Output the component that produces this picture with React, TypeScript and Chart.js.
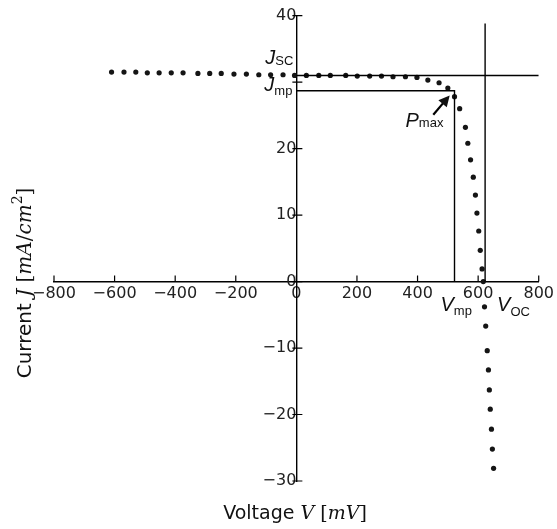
import { useEffect, useRef } from 'react';
import { Chart, registerables } from 'chart.js';

Chart.register(...registerables);

// ---- data ----
const voltage = [
  -610, -569, -530, -492, -453, -413, -374, -325, -286, -248, -206, -165, -124, -85, -44, -6,
  33, 74, 112, 163, 201, 242, 281, 319, 360, 398, 434, 471, 500, 522, 539,
  558, 566, 575, 584, 591, 596, 602, 607, 613, 617, 621, 625, 630, 634, 637, 640, 644, 647, 651,
];
const current = [
  31.5, 31.5, 31.5, 31.4, 31.4, 31.4, 31.4, 31.3, 31.3, 31.3, 31.2, 31.2, 31.1, 31.1, 31.1, 31.0,
  31.0, 31.0, 31.0, 31.0, 30.9, 30.9, 30.9, 30.8, 30.8, 30.7, 30.3, 29.9, 29.1, 27.8, 26.0,
  23.2, 20.8, 18.3, 15.7, 13.0, 10.3, 7.6, 4.7, 1.9, 0.0, -3.8, -6.7, -10.4, -13.3, -16.3, -19.2, -22.2, -25.2, -28.1,
];

const jsc = 31.0;
const voc = 623;
const vocTop = 38.8;
const vmp = 522;
const jmp = 28.7;
const arrowFrom = [452, 25.1];
const arrowTo = [506, 28.0];

const xTickValues = [-800, -600, -400, -200, 0, 200, 400, 600, 800];
const xTickLabels = ['−800', '−600', '−400', '−200', '0', '200', '400', '600', '800'];
const yTickValues = [-30, -20, -10, 0, 10, 20, 30, 40];
const yTickLabels = ['−30', '−20', '−10', '0', '10', '20', '', '40'];

const xTitle = ['Voltage ', 'V', ' [', 'mV', ']'];
const yTitle = ['Current ', 'J', ' [', 'mA', '/', 'cm', '2', ']'];
const labelJsc = ['J', 'SC'];
const labelJmp = ['J', 'mp'];
const labelPmax = ['P', 'max'];
const labelVmp = ['V', 'mp'];
const labelVoc = ['V', 'OC'];

type Run = { t: string; f: string; dy?: number };

function runsWidth(ctx: CanvasRenderingContext2D, runs: Run[]) {
  let w = 0;
  for (const r of runs) {
    ctx.font = r.f;
    w += ctx.measureText(r.t).width;
  }
  return w;
}
function drawRuns(ctx: CanvasRenderingContext2D, runs: Run[], x: number, y: number) {
  let cx = x;
  for (const r of runs) {
    ctx.font = r.f;
    ctx.fillText(r.t, cx, y + (r.dy || 0));
    cx += ctx.measureText(r.t).width;
  }
}

const SANS_IT = 'italic 20px "Liberation Sans"';
const SANS_SUB = '13px "Liberation Sans"';
const TITLE_SANS = '19px "DejaVu Sans"';
const MATH_IT = 'italic 19px "DejaVu Serif"';
const MATH_UP = '19px "DejaVu Serif"';
const YTITLE_SANS = '20px "DejaVu Sans"';
const YMATH_IT = 'italic 20px "DejaVu Serif"';
const YMATH_UP = '20px "DejaVu Serif"';

const overlayPlugin = {
  id: 'overlay',
  afterDraw(chart: any) {
    const ctx: CanvasRenderingContext2D = chart.ctx;
    const xs = chart.scales.x;
    const ys = chart.scales.y;
    const ax = xs.getPixelForValue(0);
    const ay = ys.getPixelForValue(0);
    ctx.save();
    ctx.strokeStyle = '#000';
    ctx.fillStyle = '#111';
    ctx.lineWidth = 1.2;
    // tick marks
    ctx.beginPath();
    for (const v of xTickValues) {
      const px = xs.getPixelForValue(v);
      ctx.moveTo(px, ay);
      ctx.lineTo(px, ay - 6);
    }
    for (const v of yTickValues) {
      const py = ys.getPixelForValue(v);
      ctx.moveTo(ax - 4, py);
      ctx.lineTo(ax + 6, py);
    }
    ctx.stroke();

    // arrow
    const x1 = xs.getPixelForValue(arrowFrom[0]);
    const y1 = ys.getPixelForValue(arrowFrom[1]);
    const x2 = xs.getPixelForValue(arrowTo[0]);
    const y2 = ys.getPixelForValue(arrowTo[1]);
    const ang = Math.atan2(y2 - y1, x2 - x1);
    const hl = 11;
    const hw = 5.5;
    ctx.lineWidth = 2.2;
    ctx.beginPath();
    ctx.moveTo(x1, y1);
    ctx.lineTo(x2 - Math.cos(ang) * hl * 0.8, y2 - Math.sin(ang) * hl * 0.8);
    ctx.stroke();
    ctx.beginPath();
    ctx.moveTo(x2, y2);
    ctx.lineTo(x2 - Math.cos(ang) * hl - Math.sin(ang) * hw, y2 - Math.sin(ang) * hl + Math.cos(ang) * hw);
    ctx.lineTo(x2 - Math.cos(ang) * hl + Math.sin(ang) * hw, y2 - Math.sin(ang) * hl - Math.cos(ang) * hw);
    ctx.closePath();
    ctx.fill();

    ctx.textAlign = 'left';
    ctx.textBaseline = 'alphabetic';
    ctx.fillStyle = '#111';

    const jscPx = ys.getPixelForValue(jsc);
    const jmpPx = ys.getPixelForValue(jmp);
    const vmpPx = xs.getPixelForValue(vmp);
    const vocPx = xs.getPixelForValue(voc);

    const lab = (l: string[], x: number, y: number, subDy: number) =>
      drawRuns(ctx, [
        { t: l[0], f: SANS_IT },
        { t: l[1], f: SANS_SUB, dy: subDy },
      ], x, y);

    lab(labelJsc, ax - 31, jscPx - 11, 1);
    lab(labelJmp, ax - 32, jmpPx, 4);
    lab(labelPmax, vmpPx - 49, jmpPx + 36, 0.5);
    lab(labelVmp, vmpPx - 14, ay + 29.5, 3.5);
    lab(labelVoc, vocPx + 12, ay + 29.5, 5);

    // x title
    const xr: Run[] = [
      { t: xTitle[0], f: TITLE_SANS },
      { t: xTitle[1], f: MATH_IT },
      { t: xTitle[2], f: MATH_UP },
      { t: xTitle[3], f: MATH_IT },
      { t: xTitle[4], f: MATH_UP },
    ];
    const xw = runsWidth(ctx, xr);
    drawRuns(ctx, xr, 295 - xw / 2, 519);

    // y title
    const yr: Run[] = [
      { t: yTitle[0], f: YTITLE_SANS },
      { t: yTitle[1], f: YMATH_IT },
      { t: yTitle[2], f: YMATH_UP },
      { t: yTitle[3], f: YMATH_IT },
      { t: yTitle[4], f: YMATH_UP },
      { t: yTitle[5], f: YMATH_IT },
      { t: yTitle[6], f: '14px "DejaVu Serif"', dy: -9 },
      { t: yTitle[7], f: YMATH_UP },
    ];
    const yw = runsWidth(ctx, yr);
    ctx.translate(31, 283);
    ctx.rotate(-Math.PI / 2);
    drawRuns(ctx, yr, -yw / 2, 0);
    ctx.restore();
  },
};

export default function App() {
  const ref = useRef<HTMLCanvasElement | null>(null);
  useEffect(() => {
    if (!ref.current) return;
    const points = voltage.map((v, i) => ({ x: v, y: current[i] }));
    const lineStyle = {
      showLine: true,
      pointRadius: 0,
      borderColor: '#000',
      borderWidth: 1.4,
      backgroundColor: '#000',
    };
    const chart = new Chart(ref.current, {
      type: 'scatter',
      data: {
        datasets: [
          { ...lineStyle, data: [{ x: 0, y: jsc }, { x: 800, y: jsc }] },
          { ...lineStyle, data: [{ x: voc, y: 0 }, { x: voc, y: vocTop }] },
          { ...lineStyle, data: [{ x: 0, y: jmp }, { x: vmp, y: jmp }, { x: vmp, y: 0 }] },
          {
            data: points,
            showLine: false,
            pointRadius: 2.6,
            pointBackgroundColor: '#151515',
            pointBorderWidth: 0,
            pointHoverRadius: 2.6,
          },
        ],
      },
      options: {
        animation: false,
        responsive: false,
        devicePixelRatio: 1,
        layout: { autoPadding: false, padding: { left: 54, right: 18, top: 14, bottom: 48 } },
        plugins: { legend: { display: false }, tooltip: { enabled: false } },
        events: [],
        scales: {
          x: {
            type: 'linear',
            position: { y: 0 } as any,
            min: -800,
            max: 800,
            grid: { display: false, drawTicks: false, tickLength: 0 },
            border: { display: true, color: '#000', width: 1.4 },
            afterBuildTicks: (s: any) => {
              s.ticks = xTickValues.map((v) => ({ value: v }));
            },
            ticks: {
              autoSkip: false,
              maxRotation: 0,
              padding: 3,
              color: '#222',
              font: { family: 'DejaVu Sans', size: 16 },
              callback: (_v: any, i: number) => xTickLabels[i],
            },
          },
          y: {
            type: 'linear',
            position: { x: 0 } as any,
            min: -30,
            max: 40,
            grid: { display: false, drawTicks: false, tickLength: 0 },
            border: { display: true, color: '#000', width: 1.4 },
            afterBuildTicks: (s: any) => {
              s.ticks = yTickValues.map((v) => ({ value: v }));
            },
            ticks: {
              autoSkip: false,
              padding: 6,
              color: '#222',
              font: { family: 'DejaVu Sans', size: 16 },
              callback: (_v: any, i: number) => yTickLabels[i],
            },
          },
        },
      },
      plugins: [overlayPlugin],
    });
    return () => chart.destroy();
  }, []);
  return (
    <div style={{ position: 'absolute', left: 0, top: 0, width: 557, height: 529 }}>
      <canvas ref={ref} width={557} height={529} style={{ width: 557, height: 529, display: 'block' }} />
    </div>
  );
}
